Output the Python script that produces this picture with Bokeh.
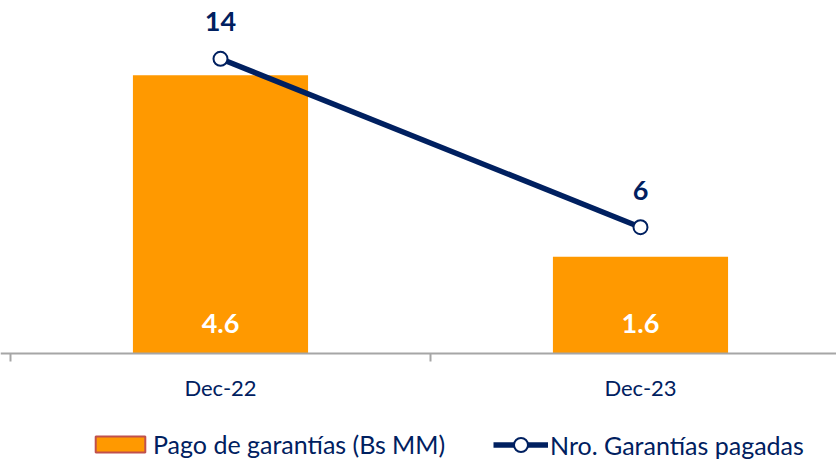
from bokeh.plotting import figure
from bokeh.models import Range1d, FixedTicker, Legend, LegendItem, ColumnDataSource
from bokeh.core.properties import value
from bokeh.embed import file_html
from bokeh.resources import INLINE

categories = ["Dec-22", "Dec-23"]
pagos = [4.6, 1.6]          # Pago de garantías (Bs MM)
garantias = [14, 6]         # Nro. Garantías pagadas
pago_labels = ["4.6", "1.6"]
garantia_labels = ["14", "6"]

ORANGE = "#FF9900"
NAVY = "#002060"
GREY = "#A6A6A6"
FONT = "Lato"

xs = list(range(len(categories)))

p = figure(width=836, height=459, output_backend="svg", toolbar_location=None,
           x_range=Range1d(-0.5238, 1.4667), y_range=Range1d(-1.752, 5.835),
           y_axis_location=None, min_border=0, min_border_left=0, min_border_right=0,
           min_border_top=0, min_border_bottom=0)
p.extra_y_ranges = {"n": Range1d(-5.036, 16.77)}
p.outline_line_color = None
p.xgrid.visible = False
p.ygrid.visible = False
p.background_fill_color = "white"
p.border_fill_color = "white"

src_bar = ColumnDataSource(dict(x=xs, top=pagos, base=[0] * len(xs), lab=pago_labels))
src_line = ColumnDataSource(dict(x=xs, y=garantias, lab=garantia_labels))

bars = p.vbar(x="x", top="top", bottom=0, width=0.417, source=src_bar,
              fill_color=ORANGE, line_color=None)
# renderer used only for the legend swatch (bordered orange box)
legend_bar = p.vbar(x=[float("nan")], top=[float("nan")], width=0.4,
                    fill_color=ORANGE, line_color="#C0504D", line_width=2)

ln = p.line(x="x", y="y", source=src_line, y_range_name="n", line_color=NAVY, line_width=5.5)
pts = p.scatter(x="x", y="y", source=src_line, y_range_name="n", marker="circle", size=14,
                fill_color="white", line_color=NAVY, line_width=2)

p.text(x="x", y="base", text="lab", source=src_bar, y_offset=-30, text_align="center",
       text_baseline="middle", text_color="white", text_font=value(FONT),
       text_font_style="bold", text_font_size="27px")

p.text(x="x", y="y", text="lab", source=src_line, y_range_name="n", y_offset=-37,
       text_align="center", text_baseline="middle", text_color=NAVY, text_font=value(FONT),
       text_font_style="bold", text_font_size="27px")

xa = p.xaxis[0]
xa.fixed_location = 0
xa.ticker = FixedTicker(ticks=xs, minor_ticks=[-0.5, 0.5, 1.5])
xa.major_label_overrides = {i: c for i, c in enumerate(categories)}
xa.axis_line_color = GREY
xa.axis_line_width = 2
xa.major_tick_line_color = None
xa.major_tick_out = 0
xa.major_tick_in = 0
xa.minor_tick_line_color = GREY
xa.minor_tick_line_width = 2
xa.minor_tick_out = 8
xa.minor_tick_in = 0
xa.major_label_standoff = 12
xa.major_label_text_font = FONT
xa.major_label_text_font_size = "22px"
xa.major_label_text_color = NAVY

common = dict(orientation="horizontal", padding=0, margin=0, label_standoff=2,
              label_text_font=FONT, label_text_font_size="25px", label_text_color=NAVY,
              background_fill_alpha=0, border_line_color=None)

legend1 = Legend(items=[LegendItem(label="Pago de garantías (Bs MM)", renderers=[legend_bar])],
                 location=(89, 0), glyph_width=62, glyph_height=20, **common)
legend2 = Legend(items=[LegendItem(label="Nro. Garantías pagadas", renderers=[ln, pts])],
                 location=(493, -3), glyph_width=55, glyph_height=35, **common)
p.add_layout(legend1, "center")
p.add_layout(legend2, "center")

open("out.html", "w").write(file_html(p, INLINE))
